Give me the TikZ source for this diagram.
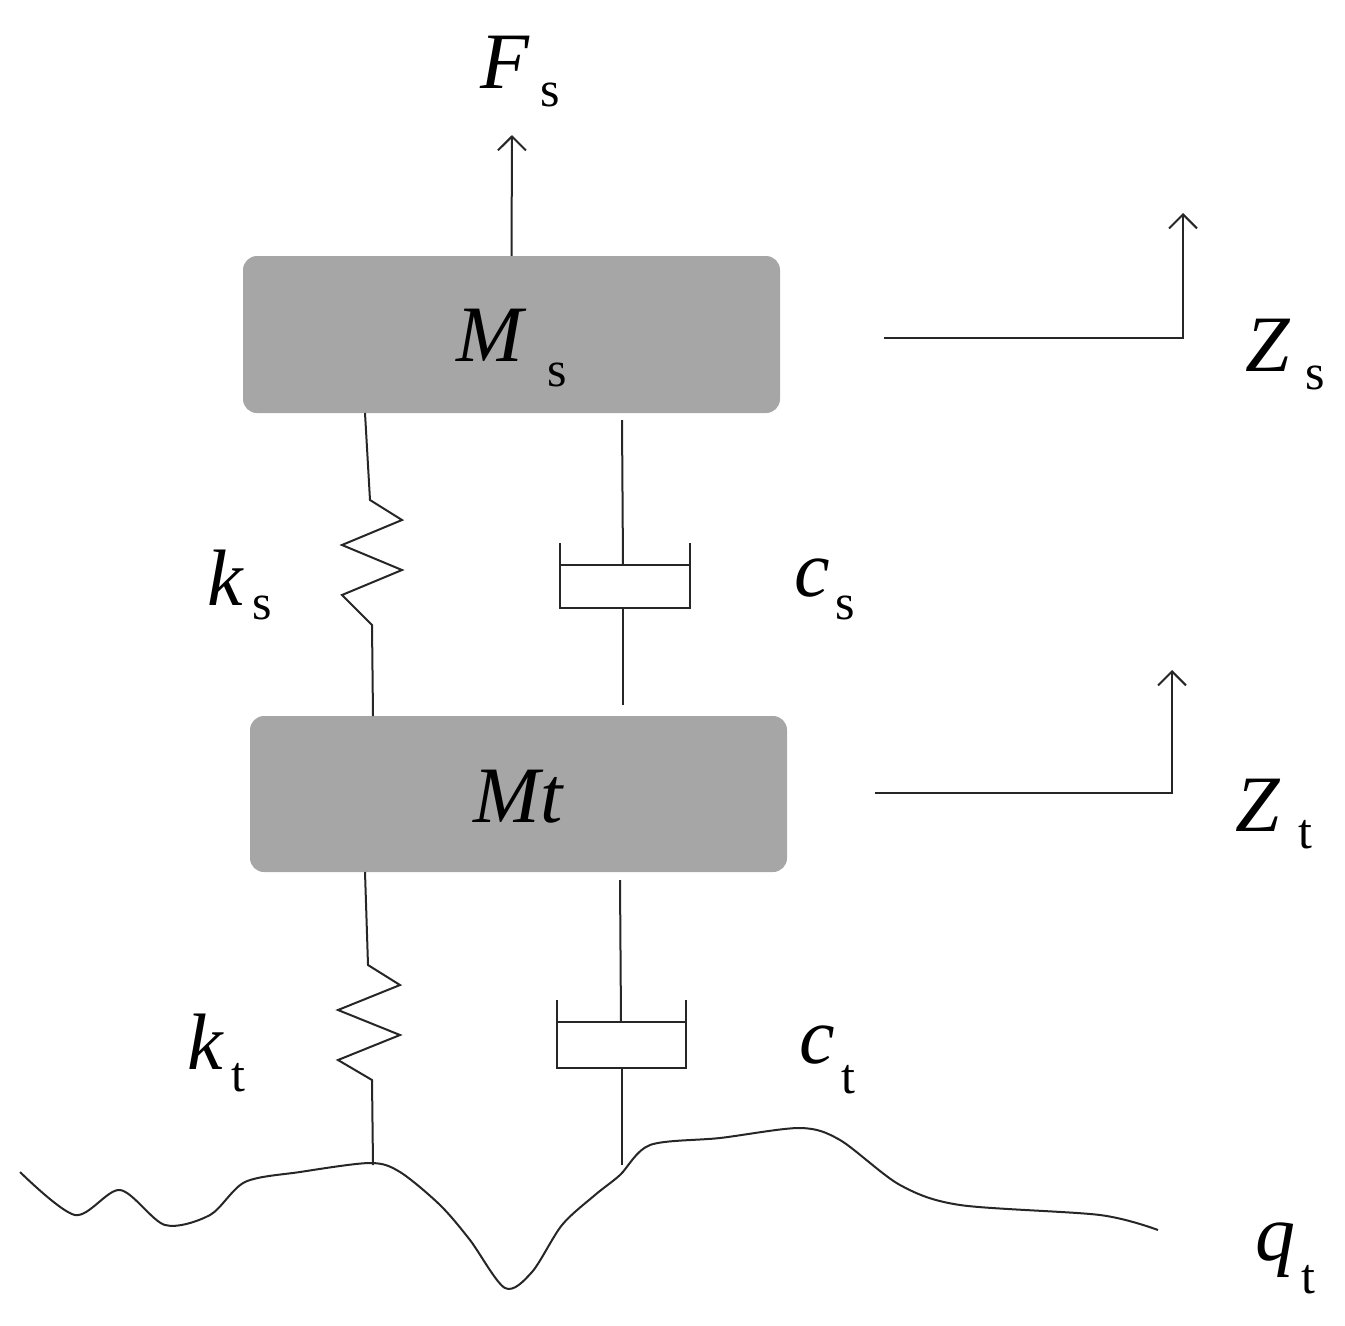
\documentclass[tikz,border=0pt]{standalone}
\usepackage{fontspec}
\setmainfont{Liberation Serif}
\begin{document}
\begin{tikzpicture}[x=1pt,y=-1pt,
  box/.style={fill=black!35,draw=none,rounded corners=14pt},
  ln/.style={line width=2pt,black!85},
  arr/.style={ln,-{Straight Barb[length=14pt,width=28pt]}},
  lab/.style={font=\fontsize{80}{90}\selectfont\itshape},
  sub/.style={font=\fontsize{50}{60}\selectfont}]
\useasboundingbox (0,0) rectangle (1345,1326);
\usetikzlibrary{arrows.meta}
\node[box,minimum width=537pt,minimum height=157pt] (Ms) at (511.5,334.5) {};
\node[box,minimum width=537pt,minimum height=156pt] (Mt) at (518.5,794) {};
\node[lab] at (490,335) {M};
\node[sub] at (557,375) {s};
\node[lab] at (518,797) {Mt};
% Fs
\coordinate (fs) at (512,135);
\draw[arr] (Ms.north) -- (fs);
\node[lab] at (505,62) {F};
\node[sub] at (550,95) {s};
% Zs
\coordinate (zs0) at (884,338); \coordinate (zs1) at (1183,338); \coordinate (zs2) at (1183,213);
\draw[arr] (zs0) -- (zs1) -- (zs2);
\node[lab] at (1268,345) {Z};
\node[sub] at (1315,378) {s};
\coordinate (zt0) at (875,793); \coordinate (zt1) at (1172,793); \coordinate (zt2) at (1172,670);
\draw[arr] (zt0) -- (zt1) -- (zt2);
\node[lab] at (1258,805) {Z};
\node[sub] at (1305,835) {t};
% upper spring
\draw[ln] (365,413) -- (370,500) -- (402,520) -- (342,545) -- (402,570) -- (342,595) -- (372,625) -- (373,716);
\node[lab] at (225,578) {k};
\node[sub] at (262,608) {s};
% upper damper
\draw[ln] (622,420) -- (623,565);
\draw[ln] (560,543) -- (560,608) -- (690,608) -- (690,543);
\draw[ln] (560,565) -- (690,565);
\draw[ln] (623,608) -- (623,705);
\node[lab] at (812,578) {c};
\node[sub] at (845,608) {s};
% lower spring
\draw[ln] (365,872) -- (368,965) -- (400,985) -- (338,1010) -- (400,1035) -- (338,1060) -- (372,1080) -- (373,1165);
\node[lab] at (205,1042) {k};
\node[sub] at (238,1078) {t};
% lower damper
\draw[ln] (620,880) -- (621,1022);
\draw[ln] (557,1000) -- (557,1068) -- (686,1068) -- (686,1000);
\draw[ln] (557,1022) -- (686,1022);
\draw[ln] (622,1068) -- (622,1165);
\node[lab] at (817,1045) {c};
\node[sub] at (848,1080) {t};
% ground
\draw[ln] plot[smooth,tension=0.5] coordinates {(20,1172) (75,1215) (120,1190) (165,1225) (210,1215) (245,1182) (300,1172) (370,1163) (400,1172) (440,1205) (470,1240) (505,1288) (532,1272) (562,1225) (595,1195) (620,1175) (650,1145) (720,1138) (800,1128) (840,1140) (900,1185) (960,1205) (1100,1215) (1158,1230)};
\node[lab] at (1275,1250) {q};
\node[sub] at (1308,1280) {t};
\end{tikzpicture}
\end{document}
